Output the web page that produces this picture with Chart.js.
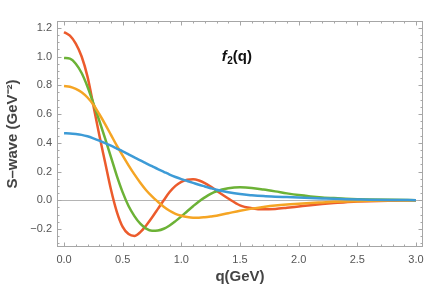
<!DOCTYPE html>
<html>
<head>
<meta charset="utf-8">
<script src="https://cdn.jsdelivr.net/npm/chart.js@4.4.1/dist/chart.umd.min.js"></script>
<style>
html, body { margin: 0; padding: 0; background: #fff; }
</style>
</head>
<body>
<canvas id="chart" width="445" height="293"></canvas>
<script>
// momentum grid (GeV) and the four S-wave curves
const qValues = [0, 0.05, 0.1, 0.15, 0.2, 0.25, 0.3, 0.35, 0.4, 0.45, 0.5, 0.55, 0.6, 0.65, 0.7, 0.75, 0.8, 0.85, 0.9, 0.95,
	1.0, 1.05, 1.1, 1.15, 1.2, 1.25, 1.3, 1.4, 1.5, 1.6, 1.7, 1.8, 1.9, 2.0, 2.1, 2.2, 2.3, 2.4, 2.5, 2.6, 2.8, 3.0];

const blueSeries = [0.466, 0.465, 0.461, 0.455, 0.445, 0.431, 0.415, 0.398, 0.38, 0.36, 0.34, 0.319, 0.298, 0.277, 0.257, 0.237, 0.217, 0.198, 0.179, 0.162,
	0.147, 0.134, 0.121, 0.108, 0.096, 0.084, 0.073, 0.056, 0.043, 0.035, 0.029, 0.025, 0.022, 0.019, 0.016, 0.013, 0.01, 0.008, 0.006, 0.004, 0.002, 0.001];

const orangeSeries = [0.795, 0.79, 0.775, 0.752, 0.715, 0.665, 0.6, 0.53, 0.455, 0.38, 0.31, 0.243, 0.18, 0.122, 0.07, 0.027, -0.01, -0.045, -0.073, -0.094,
	-0.108, -0.117, -0.121, -0.121, -0.118, -0.113, -0.107, -0.09, -0.073, -0.058, -0.046, -0.036, -0.029, -0.024, -0.019, -0.015, -0.011, -0.008, -0.006, -0.004, -0.002, -0.001];

const greenSeries = [0.99, 0.985, 0.95, 0.885, 0.79, 0.675, 0.555, 0.43, 0.3, 0.17, 0.055, -0.04, -0.11, -0.163, -0.197, -0.212, -0.21, -0.198, -0.175, -0.145,
	-0.112, -0.076, -0.041, -0.008, 0.02, 0.045, 0.063, 0.083, 0.09, 0.086, 0.075, 0.062, 0.048, 0.036, 0.027, 0.02, 0.015, 0.011, 0.008, 0.006, 0.003, 0.001];

const redSeries = [1.17, 1.145, 1.09, 1.0, 0.86, 0.66, 0.455, 0.265, 0.075, -0.08, -0.185, -0.235, -0.248, -0.222, -0.175, -0.12, -0.06, 0.0, 0.057, 0.1,
	0.128, 0.143, 0.146, 0.138, 0.12, 0.095, 0.067, 0.012, -0.035, -0.055, -0.063, -0.06, -0.052, -0.043, -0.034, -0.026, -0.019, -0.013, -0.009, -0.006, -0.003, -0.001];

const xTickValues = [0, 0.5, 1.0, 1.5, 2.0, 2.5, 3.0];
const yTickValues = [-0.2, 0, 0.2, 0.4, 0.6, 0.8, 1.0, 1.2];

const FRAME = "#a6a6a6";

const toPoints = (vals) => qValues.map((q, i) => ({ x: q, y: vals[i] }));

const makeSet = (vals, color) => ({
	data: toPoints(vals),
	borderColor: color,
	borderWidth: 2.5,
	pointRadius: 0,
	cubicInterpolationMode: "monotone",
	fill: false,
});

// zero line under the curves, frame + inside ticks + label on top
const framePlugin = {
	id: "frame",
	beforeDatasetsDraw(chart) {
		const { ctx, chartArea, scales } = chart;
		const y0 = scales.y.getPixelForValue(0);
		ctx.save();
		ctx.strokeStyle = "#b4b4b4";
		ctx.lineWidth = 1;
		ctx.beginPath();
		ctx.moveTo(chartArea.left, Math.round(y0) + 0.5);
		ctx.lineTo(chartArea.right, Math.round(y0) + 0.5);
		ctx.stroke();
		ctx.restore();
	},
	afterDraw(chart) {
		const { ctx, chartArea, scales } = chart;
		const { left, right, top, bottom } = chartArea;
		ctx.save();
		ctx.strokeStyle = FRAME;
		ctx.lineWidth = 1;
		ctx.strokeRect(left + 0.5, top + 0.5, right - left - 1, bottom - top - 1);

		const tick = (x1, y1, x2, y2) => {
			ctx.beginPath();
			ctx.moveTo(x1, y1);
			ctx.lineTo(x2, y2);
			ctx.stroke();
		};

		for (let k = 0; k <= 30; k++) {
			const v = k / 10;
			const px = Math.round(scales.x.getPixelForValue(v)) + 0.5;
			const len = k % 5 === 0 ? 4.5 : 2.5;
			tick(px, bottom, px, bottom - len);
			tick(px, top, px, top + len);
		}
		for (let k = -6; k <= 24; k++) {
			const v = k / 20;
			const py = Math.round(scales.y.getPixelForValue(v)) + 0.5;
			if (py < top || py > bottom) continue;
			const len = k % 4 === 0 ? 4.5 : 2.5;
			tick(left, py, left + len, py);
			tick(right, py, right - len, py);
		}

		// f_2(q) label
		const lx = left + (right - left) * 0.45;
		const ly = top + 40;
		ctx.fillStyle = "#111";
		ctx.textBaseline = "alphabetic";
		ctx.font = "italic bold 15px 'Liberation Sans'";
		ctx.fillText("f", lx, ly);
		let w = ctx.measureText("f").width;
		ctx.font = "bold 10px 'Liberation Sans'";
		ctx.fillText("2", lx + w + 0.5, ly + 3);
		w += ctx.measureText("2").width + 0.5;
		ctx.font = "bold 15px 'Liberation Sans'";
		ctx.fillText("(q)", lx + w, ly);
		ctx.restore();
	},
};

const context = document.getElementById("chart").getContext("2d");

const chart = new Chart(context, {
	type: "line",
	data: {
		datasets: [
			makeSet(blueSeries, "#3d9bd6"),
			makeSet(orangeSeries, "#f5a524"),
			makeSet(greenSeries, "#6cb236"),
			makeSet(redSeries, "#ec5b2c"),
		],
	},
	options: {
		responsive: false,
		animation: false,
		devicePixelRatio: 1,
		layout: { padding: { top: 21, right: 22, left: 0, bottom: 0 } },
		plugins: { legend: { display: false }, tooltip: { enabled: false } },
		scales: {
			x: {
				type: "linear",
				min: -0.06,
				max: 3.06,
				grid: { display: false, drawTicks: false },
				border: { display: false },
				afterBuildTicks: (scale) => {
					scale.ticks = xTickValues.map((v) => ({ value: v }));
				},
				afterFit: (scale) => {
					scale.height = 46;
				},
				ticks: {
					padding: 6,
					color: "#555",
					font: { family: "'Liberation Sans'", size: 11 },
					callback: (v) => v.toFixed(1),
				},
				title: {
					display: true,
					text: "q(GeV)",
					color: "#444",
					font: { family: "'Liberation Sans'", size: 15, weight: "bold" },
					padding: { top: 0, bottom: 7 },
				},
			},
			y: {
				min: -0.325,
				max: 1.247,
				grid: { display: false, drawTicks: false },
				border: { display: false },
				afterBuildTicks: (scale) => {
					scale.ticks = yTickValues.map((v) => ({ value: v }));
				},
				afterFit: (scale) => {
					scale.width = 57;
				},
				ticks: {
					padding: 5,
					color: "#555",
					font: { family: "'Liberation Sans'", size: 11 },
					callback: (v) => (v < 0 ? "\u2212" + Math.abs(v).toFixed(1) : v.toFixed(1)),
				},
				title: {
					display: true,
					text: "S\u2013wave (GeV\u207B\u00B2)",
					color: "#444",
					font: { family: "'Liberation Sans'", size: 15, weight: "bold" },
					padding: { top: 4, bottom: 0 },
				},
			},
		},
	},
	plugins: [framePlugin],
});
</script>
</body>
</html>
